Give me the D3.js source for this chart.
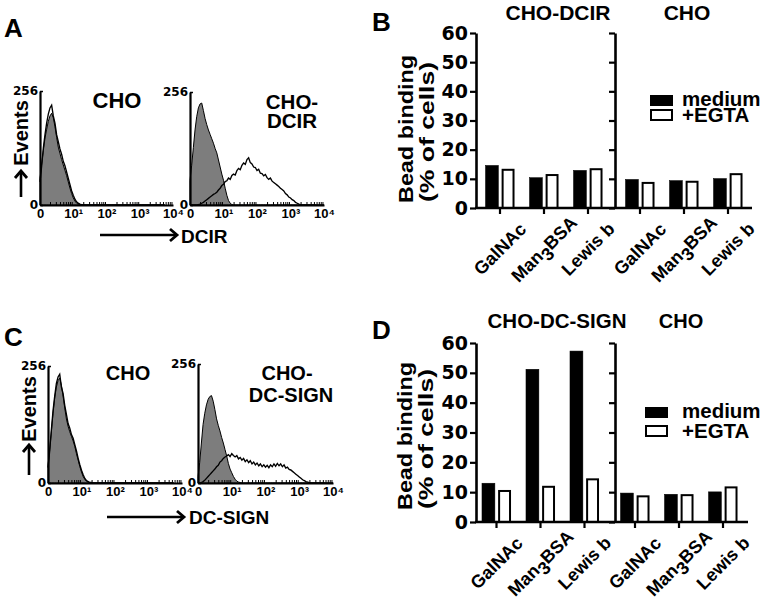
<!DOCTYPE html>
<html><head><meta charset="utf-8">
<script src="https://cdn.jsdelivr.net/npm/d3@7/dist/d3.min.js"></script>
<style>
body{margin:0;background:#fff}
svg{display:block}
text{font-family:"Liberation Sans",Arial,Helvetica,sans-serif;font-weight:bold;fill:#000}
.num{font-family:"DejaVu Sans","Liberation Sans",sans-serif}
</style>
</head><body>
<svg id="fig" width="770" height="606"></svg>
<script>
// ---------- DATA ----------
const logStep = 0.05; // decades per histogram channel (channel 0 = 10^0)

// Panel A, left (CHO): grey = control, line = anti-DCIR
const histA_CHO_control = [60,92,122,150,170,188,200,206,196,176,152,130,116,102,90,78,66,52,38,26,16,9,4,2,1,
  0,0,0,0,0,0,0,0,0,0,0,0,0,0,0,0,0,0,0,0,0,0,0,0,0,0,0,0,0,0,0,0,0,0,0,0,0,0,0,0,0,0,0,0,0,0,0,0,0,0,0];
const histA_CHO_stain = [52,88,128,158,184,204,218,224,200,184,158,142,126,114,98,88,74,60,46,32,22,13,7,4,2,1,1,
  0,0,0,0,0,0,0,0,0,0,0,0,0,0,0,0,0,0,0,0,0,0,0,0,0,0,0,0,0,0,0,0,0,0,0,0,0,0,0,0,0,0,0,0,0,0,0,0,0];
// Panel A, right (CHO-DCIR)
const histA_DCIR_control = [56,90,130,170,200,220,229,231,214,196,182,170,160,150,140,128,118,102,86,70,56,38,22,10,4,1,
  0,0,0,0,0,0,0,0,0,0,0,0,0,0,0,0,0,0,0,0,0,0,0,0,0,0,0,0,0,0,0,0,0,0,0,0,0,0,0,0,0,0,0,0,0,0,0,0,0,0];
const histA_DCIR_stain = [0,0,0,0,0,1,2,4,6,9,12,15,18,21,24,26,29,34,38,44,47,53,55,61,58,67,70,68,78,83,80,90,95,92,103,107,
  96,93,86,85,78,81,72,71,66,69,62,58,61,54,51,48,45,42,38,35,32,26,23,18,16,12,10,6,4,2,1,
  0,0,0,0,0,0,0,0,0,0,0,0,0,0];
// Panel C, left (CHO)
const histC_CHO_control = [38,72,112,152,186,210,224,230,214,190,164,140,124,112,102,92,80,64,50,36,24,14,8,4,2,1,
  0,0,0,0,0,0,0,0,0,0,0,0,0,0,0,0,0,0,0,0,0,0,0,0,0,0,0,0,0,0,0,0,0,0,0,0,0,0,0,0,0,0,0,0,0,0,0,0,0,0];
const histC_CHO_stain = [34,70,116,158,190,218,232,238,210,196,170,150,130,120,106,98,84,70,54,40,28,18,10,5,3,1,1,
  0,0,0,0,0,0,0,0,0,0,0,0,0,0,0,0,0,0,0,0,0,0,0,0,0,0,0,0,0,0,0,0,0,0,0,0,0,0,0,0,0,0,0,0,0,0,0,0,0];
// Panel C, right (CHO-DC-SIGN)
const histC_SIGN_control = [14,44,86,126,150,168,180,186,188,176,158,138,124,112,98,86,72,58,42,30,22,14,8,4,2,1,
  0,0,0,0,0,0,0,0,0,0,0,0,0,0,0,0,0,0,0,0,0,0,0,0,0,0,0,0,0,0,0,0,0,0,0,0,0,0,0,0,0,0,0,0,0,0,0,0,0,0];
const histC_SIGN_stain = [0,0,1,3,6,10,14,18,22,26,30,35,38,45,48,53,56,58,61,57,63,59,56,59,52,55,49,53,46,50,44,48,41,45,39,43,
  37,41,35,39,34,38,33,39,35,41,36,42,37,41,35,39,32,34,29,28,25,22,19,16,13,10,7,5,3,2,1,
  0,0,0,0,0,0,0,0,0,0,0,0,0,0];

const histTickValues = [1,10,100,1000,10000];
const histTickLabels = ["0","10\u00B9","10\u00B2","10\u00B3","10\u2074"];
const histYTicks = [0,256];

// Bar charts
const barCategories = ["GalNAc","Man3BSA","Lewis b"];
const barSeries = ["medium","+EGTA"];
const yTicks = [0,10,20,30,40,50,60];
const B_DCIR_medium = [14.6,10.4,12.9];
const B_DCIR_egta   = [13.1,11.3,13.3];
const B_CHO_medium  = [9.8,9.4,10.1];
const B_CHO_egta    = [8.6,9.0,11.6];
const D_SIGN_medium = [13.0,51.2,57.3];
const D_SIGN_egta   = [10.4,11.8,14.3];
const D_CHO_medium  = [9.7,9.3,10.1];
const D_CHO_egta    = [8.6,9.0,11.6];

// ---------- DRAW ----------
const svg = d3.select("#fig");

function txt(x, y, s, size, anchor, cls) {
  const t = svg.append("text").attr("x", x).attr("y", y).attr("font-size", size)
    .attr("text-anchor", anchor || "start").text(s);
  if (cls) t.attr("class", cls);
  return t;
}

function drawHist(cfg, ctrl, stain) {
  const g = svg.append("g");
  const x = d3.scaleLog().domain([1, 1e4]).range([cfg.x0, cfg.x1]);
  const y = d3.scaleLinear().domain([0, 256]).range([cfg.yBot, cfg.yTop]);
  const pts = arr => arr.map((v, i) => [Math.pow(10, i * logStep), v]);
  const area = d3.area().x(d => x(d[0])).y0(y(0)).y1(d => y(d[1]));
  g.append("path").datum(pts(ctrl)).attr("d", area)
    .attr("fill", "#7d7d7d").attr("stroke", "#000").attr("stroke-width", 1);
  const line = d3.line().x(d => x(d[0])).y(d => y(d[1]));
  g.append("path").datum(pts(stain)).attr("d", line)
    .attr("fill", "none").attr("stroke", "#000").attr("stroke-width", 1.35);

  const minor = [];
  [1, 10, 100, 1000].forEach(dec => { for (let k = 2; k <= 9; k++) minor.push(k * dec); });
  g.append("g").attr("transform", `translate(0,${cfg.yBot})`)
    .call(d3.axisBottom(x).tickValues(minor).tickSize(-3).tickFormat(""))
    .call(s => s.select(".domain").remove())
    .selectAll("line").attr("stroke-width", 1);

  const xa = g.append("g").attr("transform", `translate(0,${cfg.yBot})`)
    .call(d3.axisBottom(x).tickValues(histTickValues).tickFormat((d, i) => histTickLabels[i])
      .tickSize(0).tickSizeOuter(0).tickPadding(4));
  xa.select(".domain").attr("stroke-width", 2.2);
  xa.selectAll("text").attr("font-size", 13);

  const ya = g.append("g").attr("transform", `translate(${cfg.x0},0)`)
    .call(d3.axisLeft(y).tickValues(histYTicks).tickSize(-3).tickSizeOuter(0).tickPadding(2));
  ya.select(".domain").attr("stroke-width", 2.2);
  ya.selectAll("line").attr("stroke-width", 1.5);
  ya.selectAll("text").attr("class", "num").attr("font-size", 12);
}

function drawBars(cfg) {
  const y = d3.scaleLinear().domain([0, 60]).range([cfg.yBot, cfg.yTop]);
  cfg.panels.forEach(p => {
    const xb = d3.scaleBand().domain(barCategories).range(p.range).paddingInner(0.34).paddingOuter(0.17);
    const xi = d3.scaleBand().domain(barSeries).range([0, xb.bandwidth()]).paddingInner(0.2);
    const rows = [];
    barCategories.forEach((c, i) => {
      rows.push({ c, s: barSeries[0], v: p.medium[i] });
      rows.push({ c, s: barSeries[1], v: p.egta[i] });
    });
    svg.append("g").selectAll("rect").data(rows).join("rect")
      .attr("x", d => xb(d.c) + xi(d.s) + (d.s === barSeries[1] ? 1 : 0))
      .attr("y", d => y(d.v))
      .attr("width", d => xi.bandwidth() - (d.s === barSeries[1] ? 2 : 0))
      .attr("height", d => y(0) - y(d.v))
      .attr("fill", d => d.s === barSeries[0] ? "#000" : "#fff")
      .attr("stroke", "#000").attr("stroke-width", d => d.s === barSeries[0] ? 0.5 : 2);

    const ya = svg.append("g").attr("transform", `translate(${p.axisX},0)`)
      .call(d3.axisLeft(y).tickValues(yTicks).tickSize(6).tickSizeOuter(0).tickPadding(2)
        .tickFormat(p.labels ? d3.format("d") : ""));
    ya.select(".domain").attr("stroke-width", 2.6);
    ya.selectAll("line").attr("stroke-width", 2.2);
    ya.selectAll("text").attr("class", "num").attr("font-size", 19);

    const xa = svg.append("g").attr("transform", `translate(0,${cfg.yBot})`)
      .call(d3.axisBottom(xb).tickSize(6).tickFormat(""));
    xa.select(".domain").remove();
    xa.selectAll("line").attr("stroke-width", 2.2);

    barCategories.forEach(c => {
      const cx = xb(c) + xb.bandwidth() / 2;
      const t = svg.append("text").attr("font-size", 18).attr("text-anchor", "middle")
        .attr("dominant-baseline", "middle")
        .attr("transform", `translate(${cx + 1},${cfg.yBot + 42}) rotate(-45)`);
      if (c === "Man3BSA") {
        t.append("tspan").text("Man");
        t.append("tspan").attr("dy", 6).text("3");
        t.append("tspan").attr("dy", -6).text("BSA");
      } else {
        t.text(c);
      }
    });
  });
  svg.append("line").attr("x1", cfg.axisX0 - 1).attr("x2", cfg.axisX1)
    .attr("y1", cfg.yBot).attr("y2", cfg.yBot).attr("stroke", "#000").attr("stroke-width", 2.6);

  // legend
  svg.append("rect").attr("x", cfg.leg.x).attr("y", cfg.leg.y1).attr("width", 23).attr("height", 11).attr("fill", "#000");
  svg.append("rect").attr("x", cfg.leg.x + 1).attr("y", cfg.leg.y2).attr("width", 21).attr("height", 10)
    .attr("fill", "#fff").attr("stroke", "#000").attr("stroke-width", 2);
  txt(cfg.leg.tx, cfg.leg.y1 + 11, barSeries[0], 20.5);
  txt(cfg.leg.tx, cfg.leg.y2 + 12, barSeries[1], 20.5);

  // y label
  svg.append("text").attr("transform", `translate(${cfg.ylab.x1},${cfg.ylab.y}) rotate(-90)`)
    .attr("text-anchor", "middle").attr("font-size", 21)
    .attr("textLength", 148).attr("lengthAdjust", "spacingAndGlyphs").text("Bead binding");
  svg.append("text").attr("transform", `translate(${cfg.ylab.x2},${cfg.ylab.y + 3}) rotate(-90)`)
    .attr("text-anchor", "middle").attr("font-size", 21)
    .attr("textLength", 140).attr("lengthAdjust", "spacingAndGlyphs").text("(% of cells)");
}

function arrow(x1, x2, y) {
  svg.append("line").attr("x1", x1).attr("x2", x2 - 2).attr("y1", y).attr("y2", y)
    .attr("stroke", "#000").attr("stroke-width", 2.6);
  svg.append("path").attr("d", `M${x2 - 7},${y - 6} L${x2},${y} L${x2 - 7},${y + 6}`)
    .attr("fill", "none").attr("stroke", "#000").attr("stroke-width", 2.8);
}
function upArrow(x, y1, y2) {
  svg.append("line").attr("x1", x).attr("x2", x).attr("y1", y1).attr("y2", y2 + 2)
    .attr("stroke", "#000").attr("stroke-width", 2.6);
  svg.append("path").attr("d", `M${x - 6},${y2 + 7} L${x},${y2} L${x + 6},${y2 + 7}`)
    .attr("fill", "none").attr("stroke", "#000").attr("stroke-width", 2.8);
}

// Panel letters
txt(4, 37, "A", 26);
txt(372, 31, "B", 26);
txt(4, 346, "C", 26);
txt(372, 339, "D", 26);

// Panel A histograms
drawHist({ x0: 40, x1: 173, yTop: 91, yBot: 205 }, histA_CHO_control, histA_CHO_stain);
drawHist({ x0: 190, x1: 324, yTop: 92, yBot: 205 }, histA_DCIR_control, histA_DCIR_stain);
txt(117, 108, "CHO", 22, "middle");
txt(292, 109, "CHO-", 20.5, "middle");
txt(292, 128, "DCIR", 20.5, "middle");
svg.append("text").attr("transform", "translate(28,133) rotate(-90)").attr("text-anchor", "middle")
  .attr("font-size", 20).text("Events");
upArrow(21, 197, 171);
arrow(100, 177, 235);
txt(181, 243, "DCIR", 19);

// Panel C histograms
drawHist({ x0: 48, x1: 182, yTop: 366, yBot: 483 }, histC_CHO_control, histC_CHO_stain);
drawHist({ x0: 198, x1: 333, yTop: 364, yBot: 483 }, histC_SIGN_control, histC_SIGN_stain);
txt(128, 380, "CHO", 20, "middle");
txt(287, 380, "CHO-", 20, "middle");
txt(291, 402, "DC-SIGN", 20, "middle");
svg.append("text").attr("transform", "translate(36,409) rotate(-90)").attr("text-anchor", "middle")
  .attr("font-size", 20).text("Events");
upArrow(29, 475, 445);
arrow(107, 184, 517);
txt(189, 524, "DC-SIGN", 19);

// Panel B
drawBars({
  yTop: 33, yBot: 208, axisX0: 476, axisX1: 752,
  panels: [
    { range: [478, 610], axisX: 476, labels: true, medium: B_DCIR_medium, egta: B_DCIR_egta },
    { range: [618, 750], axisX: 615, labels: false, medium: B_CHO_medium, egta: B_CHO_egta }
  ],
  leg: { x: 650, y1: 95, y2: 110, tx: 682 },
  ylab: { x1: 413, x2: 434, y: 129 }
});
txt(558, 20, "CHO-DCIR", 21, "middle");
txt(687, 20, "CHO", 21, "middle");

// Panel D
drawBars({
  yTop: 343, yBot: 522, axisX0: 476, axisX1: 748,
  panels: [
    { range: [474.5, 606.5], axisX: 476, labels: true, medium: D_SIGN_medium, egta: D_SIGN_egta },
    { range: [613, 745], axisX: 615, labels: false, medium: D_CHO_medium, egta: D_CHO_egta }
  ],
  leg: { x: 645, y1: 407, y2: 426, tx: 682 },
  ylab: { x1: 412, x2: 433, y: 436 }
});
txt(557, 328, "CHO-DC-SIGN", 20.5, "middle");
txt(681, 328, "CHO", 20, "middle");
</script>
</body></html>
